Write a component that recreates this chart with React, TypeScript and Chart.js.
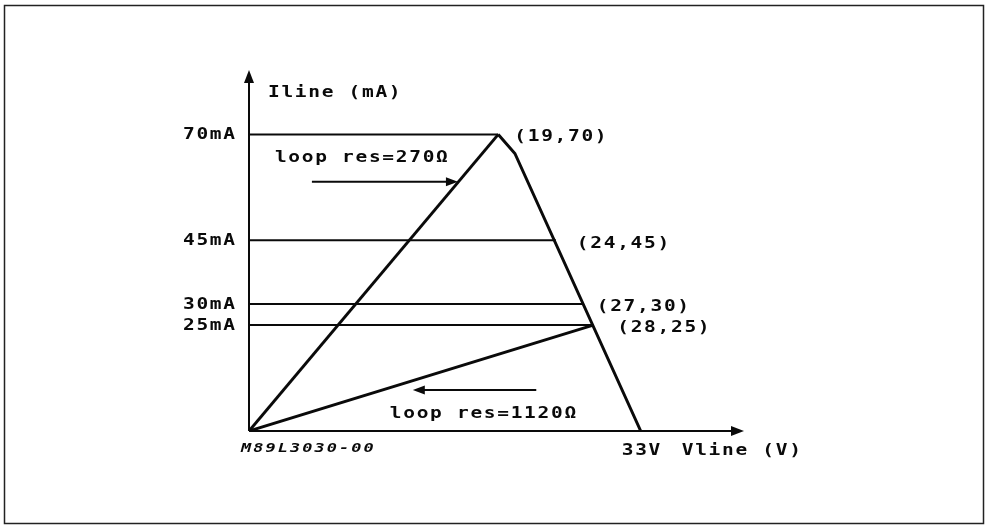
import React, { useEffect, useRef } from "react";
import { Chart, registerables } from "chart.js";

Chart.register(...registerables);

// ---- Data ----
// Labelled operating points (V, mA) as written on the sketch
const pointLabels = ["(19,70)", "(24,45)", "(27,30)", "(28,25)"];
// Current levels (mA) of the labelled points / horizontal guide lines
const currentLevels = [70, 45, 30, 25];
const currentTickLabels = ["70mA", "45mA", "30mA", "25mA"];
// Where each labelled point sits along the (not-to-scale) Vline axis of the sketch
const pointVline = [21.0, 25.85, 28.2, 29.0];
// Current-limit envelope: peak, knee, open-circuit voltage
const envelopeV = [21.0, 22.4, 33];
const envelopeI = [70, 65.5, 0];
const openCircuitV = 33;
const openCircuitLabel = "33V";
// Load lines from the origin to the labelled points
const loopLabels = ["loop res=270\u03A9", "loop res=1120\u03A9"];
const loopEndIndex = [0, 3];
const axisTitles = ["Iline (mA)", "Vline (V)"];
const figureCode = "M89L3030-00";
const axisMax = [41.7, 85.2];

// ---- Layout / style constants ----
const W = 988;
const H = 528;
const FONT = "bold 15px 'DejaVu Sans Mono', 'Liberation Mono', monospace";
const CODE_FONT = "italic bold 13px 'DejaVu Sans Mono', 'Liberation Mono', monospace";
const INK = "#0a0a0a";
const STRETCH = 1.3;
const SPACING = 1.3;
const CODE_SPACING = 1.6;
const labelDx = [16, 21, 13, 24];
const labelDy = [3, 4, 3.5, 3];
// annotation arrows (in axis units): [xFrom, xTo, y]
const arrow270 = [5.3, 17.6, 58.8];
const arrow1120 = [24.2, 13.8, 9.7];

function drawArrowHead(ctx: CanvasRenderingContext2D, tx: number, ty: number, dx: number, dy: number, len: number, half: number) {
  const bx = tx - dx * len;
  const by = ty - dy * len;
  const px = -dy;
  const py = dx;
  ctx.beginPath();
  ctx.moveTo(tx, ty);
  ctx.lineTo(bx + px * half, by + py * half);
  ctx.lineTo(bx - px * half, by - py * half);
  ctx.closePath();
  ctx.fill();
}

function text(ctx: CanvasRenderingContext2D, s: string, x: number, y: number, font: string, spacing: number) {
  ctx.save();
  ctx.font = font;
  (ctx as any).letterSpacing = spacing + "px";
  ctx.textAlign = "left";
  ctx.textBaseline = "middle";
  ctx.fillStyle = INK;
  ctx.translate(x, y);
  ctx.scale(STRETCH, 1);
  ctx.fillText(s, 0, 0);
  ctx.restore();
}

const diagramPlugin = {
  id: "diagram",
  beforeDatasetsDraw(chart: any) {
    const ctx: CanvasRenderingContext2D = chart.ctx;
    const xs = chart.scales.x;
    const ys = chart.scales.y;
    const ca = chart.chartArea;
    const x0 = xs.getPixelForValue(0);
    const y0 = ys.getPixelForValue(0);
    ctx.save();
    // frame
    ctx.strokeStyle = "#222";
    ctx.lineWidth = 1.5;
    ctx.strokeRect(4.5, 5.5, W - 9, H - 10);
    // axes
    ctx.strokeStyle = INK;
    ctx.fillStyle = INK;
    ctx.lineWidth = 2;
    ctx.beginPath();
    ctx.moveTo(x0, y0);
    ctx.lineTo(x0, ca.top + 8);
    ctx.moveTo(x0, y0);
    ctx.lineTo(ca.right - 8, y0);
    ctx.stroke();
    drawArrowHead(ctx, x0, ca.top, 0, -1, 13, 5);
    drawArrowHead(ctx, ca.right, y0, 1, 0, 13, 5);
    ctx.restore();
  },
  afterDatasetsDraw(chart: any) {
    const ctx: CanvasRenderingContext2D = chart.ctx;
    const xs = chart.scales.x;
    const ys = chart.scales.y;
    const ca = chart.chartArea;
    const x0 = xs.getPixelForValue(0);
    const y0 = ys.getPixelForValue(0);
    ctx.save();
    ctx.strokeStyle = INK;
    ctx.fillStyle = INK;
    ctx.lineWidth = 2;
    // annotation arrows
    const a1 = [xs.getPixelForValue(arrow270[0]), xs.getPixelForValue(arrow270[1]), ys.getPixelForValue(arrow270[2])];
    ctx.beginPath();
    ctx.moveTo(a1[0], a1[2]);
    ctx.lineTo(a1[1] - 8, a1[2]);
    ctx.stroke();
    drawArrowHead(ctx, a1[1], a1[2], 1, 0, 12, 4.5);
    const a2 = [xs.getPixelForValue(arrow1120[0]), xs.getPixelForValue(arrow1120[1]), ys.getPixelForValue(arrow1120[2])];
    ctx.beginPath();
    ctx.moveTo(a2[0], a2[2]);
    ctx.lineTo(a2[1] + 8, a2[2]);
    ctx.stroke();
    drawArrowHead(ctx, a2[1], a2[2], -1, 0, 12, 4.5);
    ctx.restore();

    // texts
    text(ctx, axisTitles[0], x0 + 19, ca.top + 23, FONT, SPACING);
    currentTickLabels.forEach((s, i) => {
      text(ctx, s, x0 - 66, ys.getPixelForValue(currentLevels[i]) + 1, FONT, SPACING);
    });
    pointLabels.forEach((s, i) => {
      const px = xs.getPixelForValue(pointVline[i]);
      const py = ys.getPixelForValue(currentLevels[i]);
      text(ctx, s, px + labelDx[i], py + labelDy[i], FONT, SPACING);
    });
    text(ctx, loopLabels[0], a1[0] - 37, a1[2] - 24, FONT, SPACING);
    text(ctx, loopLabels[1], a2[1] - 23, a2[2] + 24, FONT, SPACING);
    const px33 = xs.getPixelForValue(openCircuitV);
    text(ctx, openCircuitLabel, px33 - 19, y0 + 20, FONT, SPACING);
    text(ctx, axisTitles[1], px33 + 41, y0 + 20, FONT, SPACING);
    text(ctx, figureCode, x0 - 8, y0 + 18, CODE_FONT, CODE_SPACING);
  },
};

export default function App() {
  const ref = useRef<HTMLCanvasElement | null>(null);
  useEffect(() => {
    document.body.style.margin = "0";
    const canvas = ref.current;
    if (!canvas) return;
    const pts = (xsArr: number[], ysArr: number[]) => xsArr.map((x, i) => ({ x, y: ysArr[i] }));
    const lineDs = (data: any[], width: number) => ({
      data,
      showLine: true,
      borderColor: INK,
      backgroundColor: INK,
      borderWidth: width,
      pointRadius: 0,
      borderJoinStyle: "miter" as const,
      borderCapStyle: "butt" as const,
      tension: 0,
    });
    const datasets: any[] = [];
    // horizontal guide lines
    currentLevels.forEach((lvl, i) => {
      datasets.push(lineDs(pts([0, pointVline[i]], [lvl, lvl]), 2));
    });
    // load lines
    loopEndIndex.forEach((k) => {
      datasets.push(lineDs(pts([0, pointVline[k]], [0, currentLevels[k]]), 3));
    });
    // envelope
    datasets.push(lineDs(pts(envelopeV, envelopeI), 3));

    const chart = new Chart(canvas, {
      type: "scatter",
      data: { datasets },
      options: {
        animation: false,
        responsive: false,
        devicePixelRatio: 1,
        layout: { padding: { left: 249, right: W - 744, top: 70, bottom: H - 431 } },
        plugins: { legend: { display: false }, tooltip: { enabled: false } },
        events: [],
        scales: {
          x: { type: "linear", min: 0, max: axisMax[0], display: false },
          y: { type: "linear", min: 0, max: axisMax[1], display: false },
        },
      },
      plugins: [diagramPlugin],
    });
    return () => chart.destroy();
  }, []);
  return (
    <div style={{ width: W, height: H, background: "#fff" }}>
      <canvas ref={ref} width={W} height={H} style={{ display: "block", width: W, height: H }} />
    </div>
  );
}
